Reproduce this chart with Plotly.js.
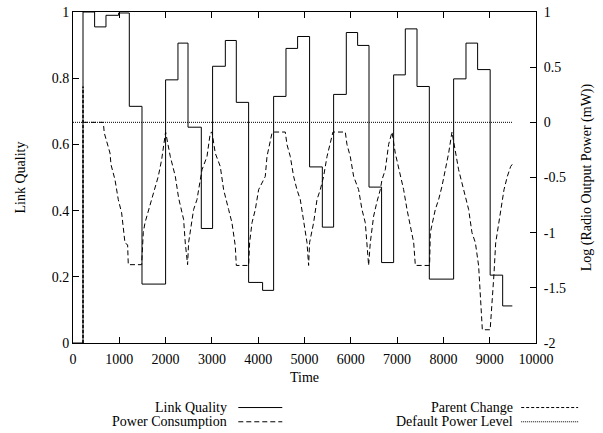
<!DOCTYPE html>
<html>
<head>
<meta charset="utf-8">
<script src="https://cdn.plot.ly/plotly-3.0.1.min.js"></script>
<style>html,body{margin:0;padding:0;background:#fff;}#chart{width:603px;height:433px;}</style>
</head>
<body>
<div id="chart"></div>
<script>
// Link quality (left axis), step series
var lqTime = [0, 216, 467, 712, 985, 1216, 1490, 2000, 2267, 2484, 2771, 3015, 3290, 3527, 3793, 4095, 4333, 4600, 4851, 5110, 5385, 5629, 5903, 6147, 6393, 6665, 6925, 7177, 7430, 7696, 8221, 8488, 8739, 9010, 9280, 9489];
var lqValue = [0, 1.0, 0.955, 0.99, 0.997, 0.715, 0.178, 0.795, 0.906, 0.652, 0.346, 0.836, 0.914, 0.727, 0.183, 0.159, 0.745, 0.89, 0.926, 0.532, 0.35, 0.751, 0.938, 0.899, 0.471, 0.243, 0.81, 0.949, 0.775, 0.193, 0.798, 0.906, 0.826, 0.205, 0.112, 0.112];

// Power consumption (right axis, log mW)
var pcTime = [216, 654, 676, 799, 821, 907, 978, 1050, 1123, 1180, 1194, 1482, 1518, 1555, 1698, 1842, 1914, 2000,
  2101, 2210, 2281, 2389, 2425, 2475, 2497, 2605, 2678, 2786, 2894, 2965, 3002, 3073, 3181, 3253, 3361, 3433, 3505, 3527,
  3793, 3815, 3866, 3938, 4009, 4153, 4190, 4298, 4333, 4585, 4621, 4693, 4765, 4837, 4909, 4981, 5054, 5089,
  5110, 5197, 5270, 5341, 5413, 5486, 5557, 5615, 5881, 5917, 5989, 6061, 6169, 6241, 6313, 6349, 6385,
  6421, 6493, 6565, 6637, 6674, 6745, 6817, 6890, 6961, 7069, 7141, 7214, 7322, 7358, 7394, 7702,
  7717, 7825, 7897, 7969, 8041, 8113, 8185, 8257, 8329, 8437, 8545, 8617, 8690, 8761, 8805, 8841, 9010,
  9057, 9093, 9129, 9200, 9237, 9309, 9381, 9453, 9489];
var pcValue = [0, 0, -0.097, -0.278, -0.384, -0.52, -0.70, -0.82, -1.094, -1.11, -1.29, -1.29, -1.0, -0.91, -0.70, -0.49, -0.34, -0.088,
  -0.309, -0.49, -0.686, -0.88, -1.094, -1.29, -1.09, -0.79, -0.70, -0.43, -0.31, -0.097, -0.088, -0.28, -0.40, -0.61, -0.79, -0.91, -1.12, -1.297,
  -1.297, -1.09, -0.91, -0.79, -0.61, -0.49, -0.309, -0.097, -0.088, -0.088, -0.2, -0.31, -0.49, -0.61, -0.70, -0.88, -1.09, -1.297,
  -1.09, -0.91, -0.70, -0.61, -0.49, -0.31, -0.2, -0.088, -0.088, -0.2, -0.31, -0.49, -0.61, -0.79, -0.91, -1.09, -1.297,
  -1.09, -0.85, -0.72, -0.61, -0.52, -0.43, -0.2, -0.088, -0.28, -0.49, -0.61, -0.79, -1.0, -1.09, -1.297, -1.297,
  -1.0, -0.79, -0.70, -0.58, -0.43, -0.28, -0.088, -0.25, -0.43, -0.61, -0.79, -1.0, -1.09, -1.3, -1.61, -1.88, -1.88,
  -1.61, -1.37, -1.094, -0.91, -0.79, -0.61, -0.49, -0.40, -0.38];

// Parent change event (left axis)
var parentTime = [216, 216];
var parentValue = [0, 0.775];

// Default power level (right axis)
var defaultTime = [0, 9489];
var defaultValue = [0, 0];

// Tick labels
var xTickVals = [0, 1000, 2000, 3000, 4000, 5000, 6000, 7000, 8000, 9000, 10000];
var xTickText = ["0", "1000", "2000", "3000", "4000", "5000", "6000", "7000", "8000", "9000", "10000"];
var yTickVals = [0, 0.2, 0.4, 0.6, 0.8, 1];
var yTickText = ["0", "0.2", "0.4", "0.6", "0.8", "1"];
var y2TickVals = [-2, -1.5, -1, -0.5, 0, 0.5, 1];
var y2TickText = ["-2", "-1.5", "-1", "-0.5", "0", "0.5", "1"];

// Legend labels
var legendNames = ["Link Quality", "Power Consumption", "Parent Change", "Default Power Level"];

var FONT = "Liberation Serif, Times New Roman, serif";

var traces = [
  {x: lqTime, y: lqValue, mode: "lines", line: {shape: "hv", color: "#000", width: 1}, yaxis: "y", name: legendNames[0], showlegend: false, hoverinfo: "skip"},
  {x: pcTime, y: pcValue, mode: "lines", line: {color: "#000", width: 1, dash: "5px,3px"}, yaxis: "y2", name: legendNames[1], showlegend: false, hoverinfo: "skip"},
  {x: parentTime, y: parentValue, mode: "lines", line: {color: "#000", width: 1.5, dash: "3px,2px"}, yaxis: "y", name: legendNames[2], showlegend: false, hoverinfo: "skip"},
  {x: defaultTime, y: defaultValue, mode: "lines", line: {color: "#000", width: 1, dash: "1px,1px"}, yaxis: "y2", name: legendNames[3], showlegend: false, hoverinfo: "skip"}
];

var axisCommon = {
  showgrid: false, zeroline: false, showline: true, linecolor: "#000", linewidth: 1,
  ticks: "inside", ticklen: 6, tickcolor: "#000", tickwidth: 1,
  tickfont: {family: FONT, size: 14, color: "#000"}
};

var legX = [0.337, 0.955];
var legY = [-0.195, -0.238];
var sampleX = [[0.357, 0.452], [0.968, 1.091]];
var legDash = ["solid", "5px,3px", "3px,2px", "1px,1px"];
var annotations = [];
var shapes = [];
for (var i = 0; i < 4; i++) {
  var col = i < 2 ? 0 : 1;
  var row = i % 2;
  annotations.push({xref: "paper", yref: "paper", x: legX[col], y: legY[row], xanchor: "right", yanchor: "middle",
    text: legendNames[i], showarrow: false, font: {family: FONT, size: 14, color: "#000"}});
  shapes.push({type: "line", xref: "paper", yref: "paper", x0: sampleX[col][0], x1: sampleX[col][1], y0: legY[row], y1: legY[row],
    line: {color: "#000", width: 1, dash: legDash[i]}});
}

var layout = {
  width: 603, height: 433,
  margin: {l: 73, r: 67, t: 12, b: 90},
  paper_bgcolor: "#fff", plot_bgcolor: "#fff",
  font: {family: FONT, size: 14, color: "#000"},
  showlegend: false,
  xaxis: Object.assign({}, axisCommon, {range: [0, 10000], tickvals: xTickVals, ticktext: xTickText, mirror: "ticks",
    ticklabelstandoff: 3,
    title: {text: "Time", font: {family: FONT, size: 14, color: "#000"}, standoff: 6}}),
  yaxis: Object.assign({}, axisCommon, {range: [0, 1], tickvals: yTickVals, ticktext: yTickText,
    title: {text: "Link Quality", font: {family: FONT, size: 14, color: "#000"}, standoff: 22}}),
  yaxis2: Object.assign({}, axisCommon, {range: [-2, 1], tickvals: y2TickVals, ticktext: y2TickText, overlaying: "y", side: "right",
    ticklabelstandoff: 4,
    title: {text: "Log (Radio Output Power (mW))", font: {family: FONT, size: 14, color: "#000"}, standoff: 16}}),
  annotations: annotations,
  shapes: shapes
};

Plotly.newPlot("chart", traces, layout, {staticPlot: true, displayModeBar: false});
</script>
</body>
</html>
